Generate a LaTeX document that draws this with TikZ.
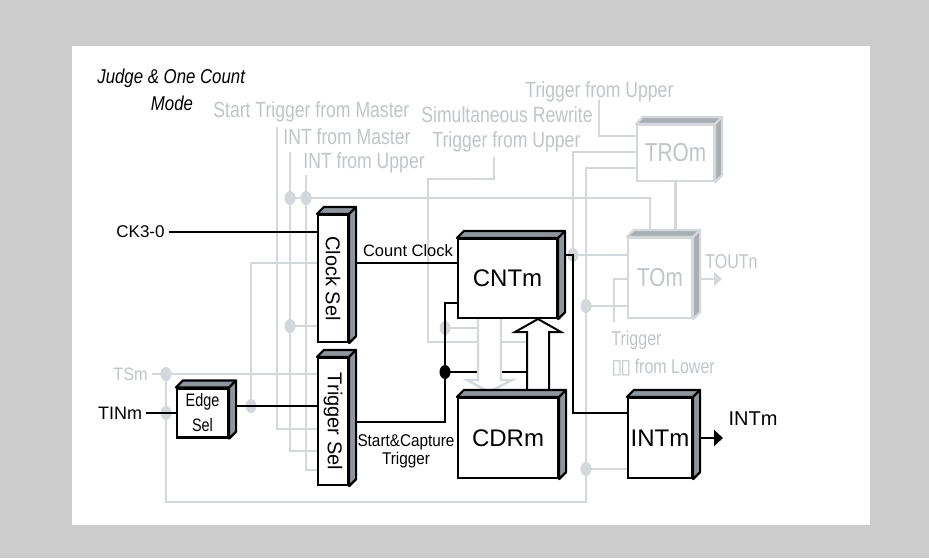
\documentclass[tikz,border=0pt]{standalone}
\usepackage{fontspec}
\setmainfont{Liberation Sans}
\newfontfamily\narrowfont[FakeStretch=0.8]{Liberation Sans}
\newfontfamily\semifont[FakeStretch=0.9]{Liberation Sans}
\newfontfamily\titlefont[FakeStretch=0.84]{Liberation Sans}
\newfontfamily\tofufont{DejaVu Sans}
\usetikzlibrary{arrows.meta,shapes.geometric,backgrounds}
\definecolor{Panel}{HTML}{CCCCCC}
\definecolor{Wire}{HTML}{D4D7DB}
\definecolor{GrayText}{HTML}{C1C5CA}
\definecolor{Shade}{HTML}{8D969D}
\definecolor{GShade}{HTML}{A9AEB3}
\tikzset{
  blkbox/.style={draw, line width=1.1pt, fill=white, inner sep=0pt, font=\fontsize{12}{14}\selectfont},
  grybox/.style={draw=Wire, line width=1.1pt, fill=white, inner sep=0pt, text=GrayText, font=\narrowfont\fontsize{13}{15}\selectfont},
  selbox/.style={blkbox, minimum width=15pt, minimum height=63.5pt, font=\fontsize{10}{12}\selectfont},
  wire/.style={draw=Wire, line width=1.2pt},
  sig/.style={draw, line width=1pt},
  glabel/.style={text=GrayText, font=\narrowfont\fontsize{11}{13}\selectfont, inner sep=0pt},
  titlelbl/.style={font=\titlefont\itshape\fontsize{10}{12}\selectfont, inner sep=0pt},
  gdot/.style={ellipse, fill=Wire, minimum width=5.5pt, minimum height=7pt, inner sep=0pt},
  bdot/.style={gdot, fill=black},
}
\begin{document}
\begin{tikzpicture}[x=.5pt,y=-.5pt]
  \useasboundingbox (0,0) rectangle (929,558);
  % blocks
  \node[selbox] (clksel) at (333,278.5) {\rotatebox{-90}{Clock Sel}};
  \node[selbox] (trgsel) at (333,421.5) {\rotatebox{-90}{Trigger Sel}};
  \node[blkbox, minimum width=49.5pt, minimum height=39.5pt] (cnt) at (507.5,278.5) {CNTm};
  \node[blkbox, minimum width=50pt, minimum height=40pt] (cdr) at (508,438) {CDRm};
  \node[blkbox, minimum width=32pt, minimum height=40pt] (intm) at (660,438) {INTm};
  \node[blkbox, minimum width=25.5pt, minimum height=24.5pt, align=center,
        font=\narrowfont\fontsize{9}{12.5}\selectfont] (edge) at (202.5,413) {Edge\\Sel};
  \node[grybox, minimum width=38.5pt, minimum height=28pt] (trom) at (675.5,153) {TROm};
  \node[grybox, minimum width=32pt, minimum height=40pt] (tom) at (660,278) {TOm};
  \foreach \n/\c/\e in {clksel/Shade/black,trgsel/Shade/black,cnt/Shade/black,cdr/Shade/black,
                        intm/Shade/black,edge/Shade/black,trom/GShade/Wire,tom/GShade/Wire}{
    \filldraw[fill=\c, draw=\e, line width=1.1pt, line join=round]
      (\n.north west) -- ++(7,-7) -- ([shift={(7,-7)}]\n.north east)
      -- ([shift={(7,-7)}]\n.south east) -- (\n.south east) -- (\n.north east) -- cycle;
    \draw[draw=\e, line width=1.1pt] (\n.north east) -- ++(7,-7);
  }

  % texts
  \node[titlelbl, anchor=west] (title) at (97,78) {Judge \& One Count};
  \node[titlelbl] (mode) at (172,103) {Mode};
  \node[glabel, anchor=west] (stm) at (213,112) {Start Trigger from Master};
  \node[glabel, anchor=west] (ifm) at (283,137) {INT from Master};
  \node[glabel, anchor=west] (ifu) at (303,163) {INT from Upper};
  \node[glabel, anchor=west] (tfu) at (525,92) {Trigger from Upper};
  \node[glabel, anchor=west] (srw) at (421,115) {Simultaneous Rewrite};
  \node[glabel, anchor=west] (tfl) at (432,142) {Trigger from Upper};
  \node[glabel, anchor=west, font=\narrowfont\fontsize{10}{12}\selectfont] (tlow) at (611,340) {Trigger};
  \node[glabel, anchor=west, font=\narrowfont\fontsize{10}{12}\selectfont] (tlowb) at (611,367)
       {{\tofufont\fontsize{10}{12}\selectfont ▯\hspace{-1pt}▯}\,from Lower};
  \node[glabel, font=\narrowfont\fontsize{10}{12}\selectfont] (toutlbl) at (731.5,262) {TOUTn};
  \node[glabel, font=\semifont\fontsize{9}{11}\selectfont, inner sep=2pt] (tsm) at (130.5,374) {TSm};
  \node[font=\fontsize{8.5}{10}\selectfont, inner sep=2pt] (ck) at (140.5,232) {CK3-0};
  \node[font=\fontsize{9}{11}\selectfont, inner sep=2pt] (tin) at (120,413) {TINm};
  \node[font=\fontsize{8.25}{10}\selectfont] (cclbl) at (408,251) {Count Clock};
  \node[align=center, font=\semifont\fontsize{8.5}{9}\selectfont] (sclbl) at (406,451) {Start\&Capture\\Trigger};
  \node[font=\fontsize{10}{12}\selectfont] (intlbl) at (753,419) {INTm};

  % junctions and free ends
  \coordinate (stm-in) at (277,127);
  \coordinate (ifm-in) at (290,152);
  \coordinate (ifu-in) at (306,175);
  \coordinate (tfu-in) at (599,100);
  \coordinate (tfl-in) at (494,157);
  \coordinate (tfl-bend) at (428,179);
  \coordinate (tl-in) at (614,322);
  \coordinate (jm) at (290,198);
  \coordinate (ju) at (306,198);
  \coordinate (jc) at (290,326);
  \coordinate (je) at (251,406);
  \coordinate (jts) at (166,374);
  \coordinate (jti) at (166,413);
  \coordinate (jlow) at (586,502);
  \coordinate (jint) at (586,469);
  \coordinate (jto) at (586,306);
  \coordinate (jcn) at (573,255);
  \coordinate (jrw) at (445,328);
  \coordinate (jcap) at (445,372);
  \coordinate (dn-l) at (478,318);
  \coordinate (dn-r) at (501,318);
  \coordinate (up-l) at (527,395);
  \coordinate (up-r) at (549,395);
  \coordinate (tout) at (722,279);
  \coordinate (intout) at (723,438);

  \begin{scope}[on background layer]
    \fill[Panel] (0,0) rectangle (929,558);
    \fill[white] (72,46) rectangle (870,525);
    % gray wires
    \draw[wire] (stm-in) |- (trgsel.west |- 0,429);
    \draw[wire] (ifm-in) |- (trgsel.west |- 0,451);
    \draw[wire] (ifu-in) |- (trgsel.west |- 0,470);
    \draw[wire] (jm) -| (650,0 |- tom.north);
    \draw[wire] (jc) -- (clksel.west |- jc);
    \draw[wire] (je) |- (clksel.west |- 0,263);
    \draw[wire] (tsm.east) -- (trgsel.west |- tsm.east);
    \draw[wire] (jts) |- (jlow) -- (jto) |- (trom.west |- 0,168);
    \draw[wire] (jint) -- (intm.west |- jint);
    \draw[wire] (jto) -- (tom.west |- jto);
    \draw[wire] (jcn) -- (tom.west |- jcn);
    \draw[wire] (jcn) |- (trom.west |- 0,152);
    \draw[wire] (trom.south) -- (trom.south |- tom.north);
    \draw[wire] (tfu-in) |- (trom.west |- 0,136);
    \draw[wire] (tfl-in) |- (tfl-bend) |- (dn-l |- 0,342);
    \draw[wire] (dn-r |- 0,342) -- (up-l |- 0,342);
    \draw[wire] (jrw) -- (dn-l |- jrw);
    \draw[wire] (tl-in) |- (tom.west |- 0,279);
    \draw[wire, -{Triangle[length=4pt,width=7pt]}] (tom.east |- tout) -- (tout);
    \foreach \p in {jm,ju,jc,je,jts,jti,jint,jto,jcn,jrw}
      \node[gdot] at (\p) {};
    % black signals
    \draw[sig] (ck.east) -- (clksel.west |- ck.east);
    \draw[sig] (tin.east) -- (edge.west |- tin.east);
    \draw[sig] (edge.east |- je) -- (trgsel.west |- je);
    \draw[sig] (clksel.east |- 0,263) -- (cnt.west |- 0,263);
    \draw[sig] (trgsel.east |- 0,422) -| (jcap) |- (cnt.west |- 0,303);
    \draw[sig] (jcap) -- (up-l |- jcap);
    \draw[sig] (cnt.east |- jcn) -- (jcn) |- (intm.west |- 0,413);
    \draw[sig, -{Triangle[length=4.5pt,width=8pt]}] (intm.east |- intout) -- (intout);
    \node[bdot] at (jcap) {};
    % transfer arrows
    \filldraw[draw=Wire, fill=white, line width=1.2pt, line join=miter]
      (dn-l) -- ++(0,62) -- ++(-11,0) -- ++(22,12) -- ++(23,-12) -- ++(-11,0) -- (dn-r);
    \filldraw[sig, fill=white, line join=miter]
      (up-l) -- ++(0,-63) -- ++(-12,0) -- ++(23,-13) -- ++(23,13) -- ++(-12,0) -- (up-r);
  \end{scope}
\end{tikzpicture}
\end{document}
